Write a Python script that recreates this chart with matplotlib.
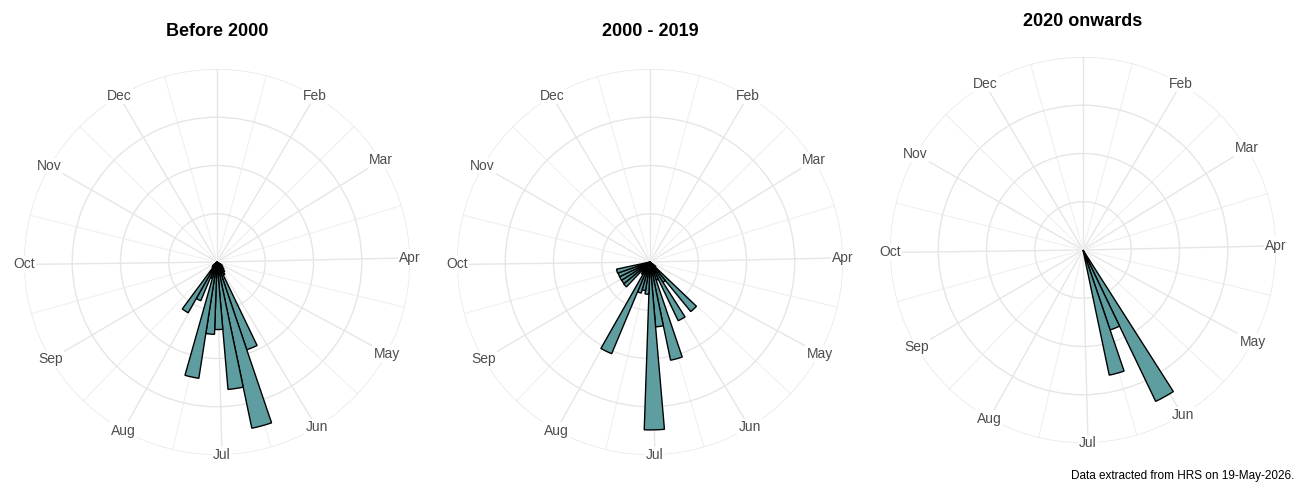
import numpy as np
import matplotlib
matplotlib.use("Agg")
import matplotlib.pyplot as plt

plt.rcParams['font.family'] = ['Liberation Sans', 'DejaVu Sans']

titles = ["Before 2000", "2000 - 2019", "2020 onwards"]
days1 = [126, 133, 140, 147, 154, 161, 168, 175, 182, 189, 196, 203, 210, 217, 224, 231]
vals1 = [0.12, 0.15, 0.2, 0.25, 0.3, 1.92, 3.52, 2.65, 1.40, 1.50, 2.44, 0.35, 0.87, 1.21, 0.15, 0.12]
days2 = [133, 140, 147, 154, 161, 168, 175, 182, 189, 196, 203, 210, 217, 224, 231, 238, 245, 252, 259]
vals2 = [0.15, 1.33, 0.5, 1.35, 0.4, 2.08, 1.35, 3.48, 0.67, 0.6, 0.67, 2.06, 0.3, 0.25, 0.71, 0.7, 0.7, 0.7, 0.71]
days3 = [154, 161, 168]
vals3 = [3.48, 1.75, 2.65]
month_labels = ["Jan", "Feb", "Mar", "Apr", "May", "Jun", "Jul", "Aug", "Sep", "Oct", "Nov", "Dec"]
month_start = [1, 32, 60, 91, 121, 152, 182, 213, 244, 274, 305, 335]

W, H = 1300, 500
fig = plt.figure(figsize=(13, 5), dpi=100)
centers = [(217, 262), (650, 262), (1083, 250)]
title_y = [32, 32, 22]
R = 193
data = [(days1, vals1), (days2, vals2), (days3, vals3)]

def ang(d):
    return (np.asarray(d, float) - 1) / 365 * 2 * np.pi

for (cx, cy), ty, (d, v), t in zip(centers, title_y, data, titles):
    ax = fig.add_axes([(cx - R) / W, (H - cy - R) / H, 2 * R / W, 2 * R / H], projection="polar")
    ax.set_theta_zero_location("N")
    ax.set_theta_direction(-1)
    ax.set_ylim(0, 4)
    ax.set_yticks([1, 2, 3, 4])
    ax.set_yticklabels([])
    ax.spines["polar"].set_visible(False)
    ax.set_facecolor("white")
    major = ang(month_start)
    minor = ang(np.array(month_start) + 15)
    ax.set_xticks(major)
    ax.set_xticklabels([])
    ax.set_xticks(minor, minor=True)
    ax.tick_params(axis="x", which="both", length=0)
    ax.grid(True, which="major", color="#e6e6e6", lw=1)
    ax.xaxis.grid(True, which="minor", color="#f0f0f0", lw=0.8)
    for a, lab in zip(major[1:], month_labels[1:]):
        ax.text(a, 4.0, lab, ha="center", va="center", fontsize=10, color="#4d4d4d",
                clip_on=False, bbox=dict(boxstyle="square,pad=0.1", fc="white", ec="none"),
                zorder=5)
    ax.bar(ang(d), v, width=7 / 365 * 2 * np.pi, align="center",
           color="#5f9ea0", edgecolor="black", lw=1, zorder=3)
    fig.text(cx / W, 1 - ty / H, t, ha="center", va="center", fontsize=13, fontweight="bold")

fig.text(1294 / W, 1 - 476 / H, "Data extracted from HRS on 19-May-2026.", ha="right",
         va="center", fontsize=8.5)
fig.savefig("out.png", dpi=100, facecolor="white")
